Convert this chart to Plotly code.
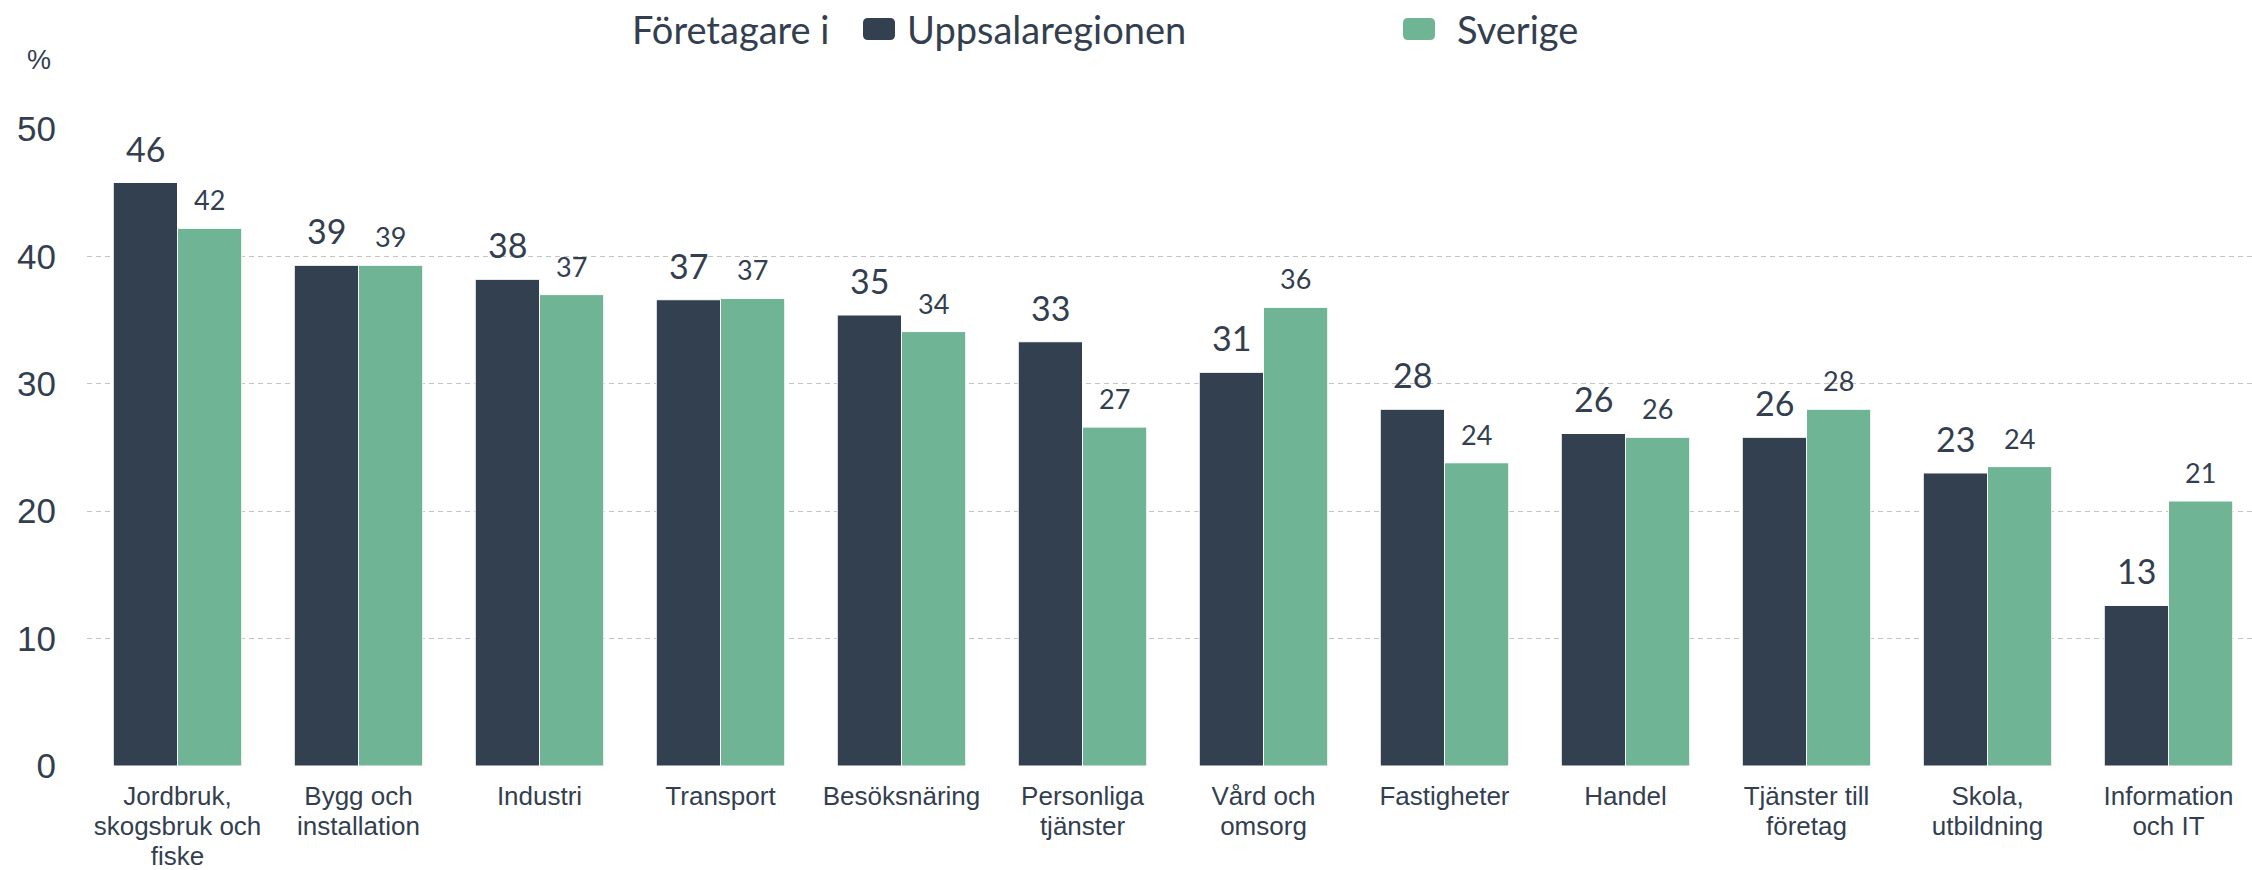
import plotly.graph_objects as go

categories = ["Jordbruk,<br>skogsbruk och<br>fiske", "Bygg och<br>installation", "Industri",
              "Transport", "Besöksnäring", "Personliga<br>tjänster", "Vård och<br>omsorg",
              "Fastigheter", "Handel", "Tjänster till<br>företag", "Skola,<br>utbildning",
              "Information<br>och IT"]
uppsala = [45.8, 39.3, 38.2, 36.6, 35.4, 33.3, 30.9, 28.0, 26.1, 25.8, 23.0, 12.6]
sverige = [42.2, 39.3, 37.0, 36.7, 34.1, 26.6, 36.0, 23.8, 25.8, 28.0, 23.5, 20.8]
series_names = ["Uppsalaregionen", "Sverige"]
legend_title = "Företagare i"
y_unit = "%"
y_ticks = [0, 10, 20, 30, 40, 50]

DARK = "#33404F"
GREEN = "#70B496"
TEXT = "#333F4F"
BARGAP = 0.29
W, H = 2252, 870
ML, MR, MT, MB = 87, 0, 129, 104
PW, PH = W - ML - MR, H - MT - MB


def px_x(px):
    return (px - ML) / PW


def px_y(py):
    return 1 + (MT - py) / PH


fig = go.Figure()
colors = [DARK, GREEN]
for name, vals, col in zip(series_names, [uppsala, sverige], colors):
    fig.add_trace(go.Bar(x=categories, y=vals, name=name, showlegend=False,
                         marker=dict(color=col, line=dict(color="white", width=1))))

off = (1 - BARGAP) / 4
annotations = []
for i, (u, s) in enumerate(zip(uppsala, sverige)):
    annotations.append(dict(x=i - off, y=u, xref="x", yref="y", text=f"{u:.0f}",
                            showarrow=False, yanchor="bottom", yshift=12,
                            font=dict(family="Lato", size=34, color=TEXT)))
    annotations.append(dict(x=i + off, y=s, xref="x", yref="y", text=f"{s:.0f}",
                            showarrow=False, yanchor="bottom", yshift=10,
                            font=dict(family="Lato", size=27, color=TEXT)))

annotations.append(dict(x=px_x(25), y=px_y(60), xref="paper", yref="paper", text=y_unit,
                        showarrow=False, xanchor="left", yanchor="middle",
                        font=dict(family="Liberation Sans", size=27, color=TEXT)))

# legend (title + swatches + labels)
leg_font = dict(family="Lato", size=38, color=TEXT)
leg_cy = 29
annotations.append(dict(x=px_x(630), y=px_y(leg_cy), xref="paper", yref="paper", text=legend_title,
                        showarrow=False, xanchor="left", yanchor="middle", font=leg_font))
shapes = []
legend_items = [(863, 905), (1403, 1455)]
for (sx, tx), name, col in zip(legend_items, series_names, colors):
    r = 5
    path = (f"M {r},0 L {32 - r},0 Q 32,0 32,{r} L 32,{22 - r} Q 32,22 {32 - r},22 "
            f"L {r},22 Q 0,22 0,{22 - r} L 0,{r} Q 0,0 {r},0 Z")
    shapes.append(dict(type="path", xref="paper", yref="paper", xsizemode="pixel", ysizemode="pixel",
                       xanchor=px_x(sx), yanchor=px_y(leg_cy + 11), path=path,
                       fillcolor=col, line=dict(width=0)))
    annotations.append(dict(x=px_x(tx), y=px_y(leg_cy), xref="paper", yref="paper", text=name,
                            showarrow=False, xanchor="left", yanchor="middle", font=leg_font))

# tick labels: base font sets the (tighter) line spacing, span sets the glyph size
tick_text = ["<br>".join(f'<span style="font-size:26px">{ln}</span>' for ln in c.split("<br>"))
             for c in categories]

fig.update_layout(
    width=W, height=H,
    margin=dict(l=ML, r=MR, t=MT, b=MB, autoexpand=False),
    paper_bgcolor="white", plot_bgcolor="white",
    barmode="group", bargap=BARGAP, bargroupgap=0,
    showlegend=False,
    xaxis=dict(range=[-0.5, -0.5 + PW / 181], tickmode="array", tickvals=categories, ticktext=tick_text,
               tickfont=dict(family="Liberation Sans", size=23, color=TEXT),
               showgrid=False, showline=False, ticks="", ticklabelstandoff=15, fixedrange=True),
    yaxis=dict(range=[0, 50], tickvals=y_ticks, tickfont=dict(family="Liberation Sans", size=35, color=TEXT),
               showgrid=True, gridcolor="#C4C4C4", griddash="5px,4px", gridwidth=1,
               zeroline=False, showline=False, ticks="", ticklabelstandoff=30, fixedrange=True),
    annotations=annotations,
    shapes=shapes,
)
fig.write_html("out.html", config={"displayModeBar": False},
               post_script="document.body.style.margin='0';")
